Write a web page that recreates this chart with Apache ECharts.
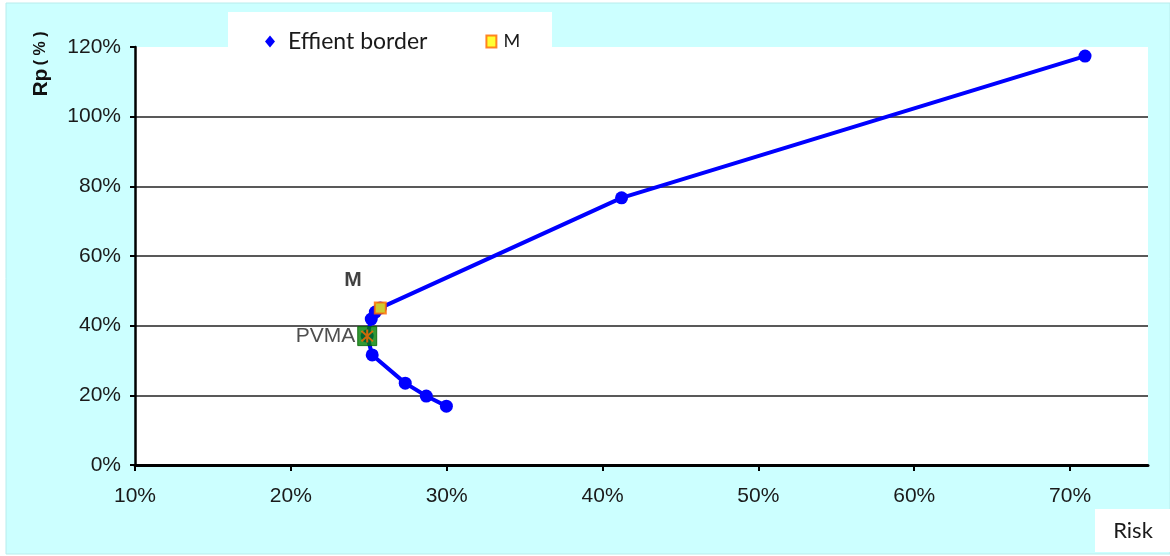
<!DOCTYPE html>
<html>
<head>
<meta charset="utf-8">
<title>Efficient frontier</title>
<script src="https://cdn.jsdelivr.net/npm/echarts@6/dist/echarts.min.js"></script>
<style>
  html, body { margin: 0; padding: 0; background: #ffffff; }
  #chart { width: 1170px; height: 556px; }
</style>
</head>
<body>
<div id="chart"></div>
<script>
// Portfolio risk (%) and expected return Rp (%) along the efficient border
const frontierRisk   = [29.98, 28.69, 27.34, 25.22, 24.90, 25.16, 25.42, 25.74, 41.22, 70.96];
const frontierReturn = [16.9,  19.8,  23.5,  31.6,  37.0,  41.9,  43.9,  45.1,  76.7,  117.4];

// Market portfolio M and the minimum-variance portfolio PVMA
const marketPoint = [25.74, 45.1];
const pvmaPoint   = [24.90, 37.0];

// Axis ticks (percent)
const riskTicks   = [10, 20, 30, 40, 50, 60, 70];
const returnTicks = [0, 20, 40, 60, 80, 100, 120];

const frontierData = frontierRisk.map((r, i) => [r, frontierReturn[i]]);

const labelFont = '"Liberation Sans", Arial, sans-serif';
const legendFont = 'Lato, "Open Sans", sans-serif';

const asterisk = 'path://M4.3,0 h1.4 v10 h-1.4 z M0.6,1.4 L1.6,0.4 L9.4,8.6 L8.4,9.6 z M8.4,0.4 L9.4,1.4 L1.6,9.6 L0.6,8.6 z';

const chart = echarts.init(document.getElementById('chart'), null, { renderer: 'canvas' });

chart.setOption({
  backgroundColor: '#ffffff',
  animation: false,
  graphic: [
    { type: 'rect', z: -20, silent: true,
      shape: { x: 6, y: 3, width: 1164, height: 551 },
      style: { fill: '#ccffff', stroke: '#b8ecec', lineWidth: 1 } },
    { type: 'rect', z: -10, silent: true,
      shape: { x: 228, y: 12, width: 324, height: 40 },
      style: { fill: '#ffffff' } },
    { type: 'rect', z: -10, silent: true,
      shape: { x: 1095, y: 509, width: 75, height: 43 },
      style: { fill: '#ffffff' } },
    { type: 'text', z: 10, silent: true,
      x: 1133, y: 531,
      style: { text: 'Risk', font: '22px ' + legendFont, fill: '#1a1a1a',
               align: 'center', verticalAlign: 'middle' } },
    { type: 'text', z: 10, silent: true,
      x: 41, y: 64, rotation: Math.PI / 2,
      style: {
        text: '{a|Rp} {b|( % )}',
        align: 'center', verticalAlign: 'middle',
        rich: {
          a: { font: 'bold 21px ' + labelFont, fill: '#111', verticalAlign: 'middle' },
          b: { font: 'bold 16px ' + labelFont, fill: '#111', verticalAlign: 'middle' }
        }
      } }
  ],
  legend: {
    left: 260, top: 25,
    itemGap: 58,
    itemWidth: 10, itemHeight: 12,
    textStyle: { fontFamily: legendFont, fontSize: 23, color: '#1a1a1a',
                 padding: [0, 0, 0, 8] },
    data: [
      { name: 'Effient border', icon: 'diamond',
        itemStyle: { color: '#0000ff' } },
      { name: 'M', icon: 'rect',
        itemStyle: { color: '#ffff00', borderColor: '#ff6600', borderWidth: 2 },
        textStyle: { fontSize: 18, padding: [0, 0, 0, 2] } }
    ]
  },
  grid: {
    left: 135, right: 22, top: 47, bottom: 91,
    show: true, backgroundColor: '#ffffff', borderWidth: 0
  },
  xAxis: {
    type: 'value', min: 10, max: 75, interval: 10,
    axisLine: { show: true, lineStyle: { color: '#000', width: 3 } },
    axisTick: { show: true, length: 6, lineStyle: { color: '#000', width: 2 },
                customValues: riskTicks },
    axisLabel: { margin: 21, fontFamily: labelFont, fontSize: 21, color: '#1a1a1a',
                 customValues: riskTicks, formatter: v => v + '%' },
    splitLine: { show: false }
  },
  yAxis: {
    type: 'value', min: 0, max: 120, interval: 20,
    axisLine: { show: true, lineStyle: { color: '#000', width: 2.5 } },
    axisTick: { show: true, length: 5, lineStyle: { color: '#000', width: 2 },
                customValues: returnTicks },
    axisLabel: { margin: 14, fontFamily: labelFont, fontSize: 21, color: '#1a1a1a',
                 customValues: returnTicks, formatter: v => v + '%' },
    splitLine: { show: true, showMaxLine: false,
                 lineStyle: { color: '#222', width: 1.5 } }
  },
  series: [
    {
      name: 'Effient border',
      type: 'line',
      data: frontierData,
      z: 3,
      symbol: 'circle',
      symbolSize: 13,
      showAllSymbol: true,
      lineStyle: { color: '#0000ff', width: 4 },
      itemStyle: { color: '#0000ff' }
    },
    {
      name: 'M',
      type: 'scatter',
      data: [marketPoint],
      z: 5,
      symbol: 'rect',
      symbolSize: 11,
      itemStyle: { color: '#ffff00', borderColor: '#ff6600', borderWidth: 2 },
      label: {
        show: true, formatter: 'M', position: 'left',
        offset: [-7, -28],
        fontFamily: labelFont, fontWeight: 'bold', fontSize: 21, color: '#111'
      }
    },
    {
      name: 'PVMA',
      type: 'scatter',
      data: [pvmaPoint],
      z: 5,
      symbol: 'rect',
      symbolSize: 19,
      itemStyle: { color: '#008000', borderColor: '#006400', borderWidth: 1 },
      label: {
        show: true, formatter: 'PVMA', position: 'left', distance: 2,
        fontFamily: labelFont, fontSize: 21, color: '#222'
      }
    },
    {
      name: 'PVMA star',
      type: 'scatter',
      data: [pvmaPoint],
      z: 6,
      symbol: asterisk,
      symbolSize: 13,
      itemStyle: { color: '#ff6a00' }
    }
  ]
});
</script>
</body>
</html>
